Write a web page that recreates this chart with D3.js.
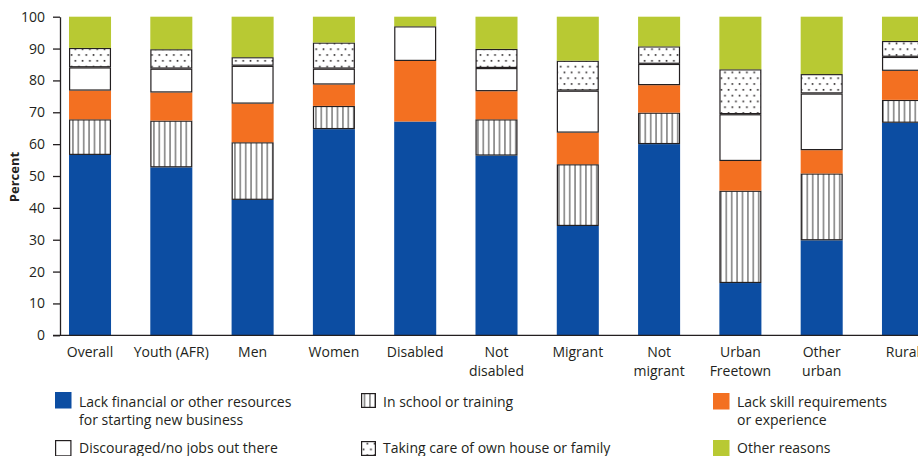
<!DOCTYPE html>
<html><head><meta charset="utf-8">
<script src="https://cdn.jsdelivr.net/npm/d3@7"></script>
<style>
html,body{margin:0;padding:0;background:#fff;}
svg{display:block;}
text{font-family:"Open Sans","Liberation Sans",Arial,sans-serif;fill:#231f20;}
</style></head>
<body><svg id="chart" width="918" height="456"></svg>
<script>
const categories = ["Overall","Youth (AFR)","Men","Women","Disabled","Not\ndisabled","Migrant","Not\nmigrant","Urban\nFreetown","Other\nurban","Rural"];
const financial   = [56.6, 52.7, 42.5, 64.7, 67.1, 56.4, 34.3, 60.0, 16.4, 29.8, 66.7];
const school      = [11.2, 14.7, 18.1,  7.3,  0.0, 11.4, 19.4,  9.9, 29.0, 21.0,  7.2];
const skill       = [ 9.0,  8.8, 12.1,  6.7, 19.0,  8.8,  9.9,  8.6,  9.3,  7.3,  9.1];
const discouraged = [ 7.3,  7.5, 11.9,  5.0, 10.9,  7.3, 13.2,  6.7, 14.7, 17.8,  4.4];
const care        = [ 6.1,  6.1,  2.7,  8.2,  0.0,  6.0,  9.4,  5.5, 14.1,  6.1,  5.0];
const other       = [ 9.8, 10.2, 12.7,  8.1,  3.0, 10.1, 13.8,  9.3, 16.5, 18.0,  7.6];
const seriesKeys  = ["financial","school","skill","discouraged","care","other"];
const seriesNames = ["Lack financial or other resources\nfor starting new business","In school or training","Lack skill requirements\nor experience","Discouraged/no jobs out there","Taking care of own house or family","Other reasons"];
const yTicks = [0,10,20,30,40,50,60,70,80,90,100];
const yTitle = "Percent";

const fills = {financial:"#0c4da2", school:"url(#stripes)", skill:"#f37021", discouraged:"#ffffff", care:"url(#dots)", other:"#b8c933"};
const outlined = {school:true, discouraged:true, care:true};
const ink = "#231f20";

const rows = categories.map((c,i)=>({cat:c, financial:financial[i], school:school[i], skill:skill[i], discouraged:discouraged[i], care:care[i], other:other[i]}));

const svg = d3.select("#chart");
const defs = svg.append("defs");
const ps = defs.append("pattern").attr("id","stripes").attr("patternUnits","userSpaceOnUse").attr("width",5.4).attr("height",10);
ps.append("rect").attr("width",5.4).attr("height",10).attr("fill","#fff");
ps.append("rect").attr("x",2.2).attr("width",1).attr("height",10).attr("fill","#3a3a3a");
const pd = defs.append("pattern").attr("id","dots").attr("patternUnits","userSpaceOnUse").attr("width",7.3).attr("height",11.6);
pd.append("rect").attr("width",7.3).attr("height",11.6).attr("fill","#fff");
pd.append("rect").attr("x",1.5).attr("y",2).attr("width",1.6).attr("height",1.6).attr("fill","#231f20");
pd.append("rect").attr("x",5.15).attr("y",7.8).attr("width",1.6).attr("height",1.6).attr("fill","#231f20");

const y = d3.scaleLinear().domain([0,100]).range([335.3,16.7]);
const x = d3.scaleBand().domain(categories).range([69,924]).paddingInner(0.483).paddingOuter(0);

const stacked = d3.stack().keys(seriesKeys)(rows);

const g = svg.append("g");
stacked.forEach(layer=>{
  const key = layer.key;
  g.append("g").selectAll("rect").data(layer.filter(d=>d[1]-d[0]>0)).join("rect")
    .attr("x", d=>x(d.data.cat) + (outlined[key]?0.6:0))
    .attr("width", x.bandwidth() - (outlined[key]?1.2:0))
    .attr("y", d=>y(d[1]) + (outlined[key]?0.6:0))
    .attr("height", d=>y(d[0])-y(d[1]) - (outlined[key]?1.2:0))
    .attr("fill", fills[key])
    .attr("stroke", outlined[key]?ink:"none")
    .attr("stroke-width", outlined[key]?1.2:0);
});

// y axis
const ya = svg.append("g").attr("transform","translate(60,0)")
  .call(d3.axisLeft(y).tickValues(yTicks).tickSize(7).tickSizeOuter(0).tickPadding(8));
ya.select(".domain").attr("stroke",ink).attr("stroke-width",1.3);
ya.selectAll(".tick line").attr("stroke",ink).attr("stroke-width",1.3);
ya.selectAll(".tick text").style("font-size","14px").attr("fill",ink).style("font-family",'"Open Sans","Liberation Sans",Arial,sans-serif');

svg.append("text").attr("transform","translate(19,177) rotate(-90)").attr("text-anchor","middle")
  .style("font-size","13px").style("font-weight","bold").text(yTitle);

// x axis
svg.append("line").attr("x1",53).attr("x2",918).attr("y1",y(0)).attr("y2",y(0)).attr("stroke",ink).attr("stroke-width",1.3);
const xa = svg.append("g").attr("transform",`translate(0,${y(0)})`).call(d3.axisBottom(x).tickSize(0).tickPadding(0));
xa.select(".domain").remove();
xa.selectAll(".tick text").each(function(d){
  const t = d3.select(this); t.text(null).attr("y",null).attr("dy",null)
    .style("font-size","14px").style("font-family",'"Open Sans","Liberation Sans",Arial,sans-serif').attr("fill",ink);
  d.split("\n").forEach((line,i)=>t.append("tspan").attr("x",0).attr("y",21.7+i*19).text(line));
});

// legend
const legendPos = [[55,392],[361,393],[713,393],[55,440],[361,441],[713,440]];
seriesKeys.forEach((key,i)=>{
  const [lx,ly] = legendPos[i];
  const lg = svg.append("g");
  const s = (key==="school"||key==="care") ? 15 : 16.5;
  lg.append("rect").attr("x",lx+(outlined[key]?0.6:0)).attr("y",ly+(outlined[key]?0.6:0))
    .attr("width",s-(outlined[key]?1.2:0)).attr("height",s-(outlined[key]?1.2:0))
    .attr("fill",fills[key]).attr("stroke",outlined[key]?ink:"none").attr("stroke-width",1.2);
  const tx = (key==="school"||key==="care") ? lx+22 : lx+24;
  const t = lg.append("text").style("font-size","14px");
  seriesNames[i].split("\n").forEach((line,j)=>t.append("tspan").attr("x",tx).attr("y",(i<3?407:452.5)+j*18).text(line));
});
</script></body></html>
